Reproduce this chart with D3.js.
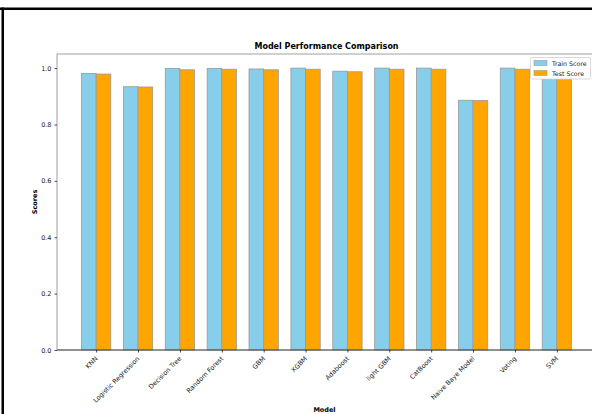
<!DOCTYPE html>
<html>
<head>
<meta charset="utf-8">
<script src="https://cdn.jsdelivr.net/npm/d3@7"></script>
<style>
  html, body { margin: 0; padding: 0; background: #fff; }
  svg { display: block; font-family: "DejaVu Sans", sans-serif; }
</style>
</head>
<body>
<svg id="chart" width="592" height="414"></svg>
<script>
const models = ["KNN", "Logistic Regression", "Decision Tree", "Random Forest", "GBM", "XGBM",
  "Adaboost", "light GBM", "CatBoost", "Naive Baye Model", "Voting", "SVM"];
const trainScores = [0.981, 0.934, 0.999, 0.999, 0.997, 1.0, 0.989, 1.0, 1.0, 0.886, 1.0, 0.985];
const testScores  = [0.979, 0.933, 0.994, 0.996, 0.994, 0.996, 0.987, 0.996, 0.996, 0.885, 0.996, 0.983];
const yTicks = [0.0, 0.2, 0.4, 0.6, 0.8, 1.0];
const seriesNames = ["Train Score", "Test Score"];
const seriesColors = ["#87CEEB", "#FFA500"];

const svg = d3.select("#chart");
const mLeft = 57, mRight = 596, mTop = 54, mBottom = 350;

// frame lines (cropped screenshot border)
svg.append("rect").attr("x", 0).attr("y", 7.5).attr("width", 592).attr("height", 2.5).attr("fill", "#000");
svg.append("rect").attr("x", 1.5).attr("y", 7.5).attr("width", 2.5).attr("height", 410).attr("fill", "#000");

const x = d3.scalePoint().domain(models).range([mLeft, mRight]).padding(0.935);
const step = x.step();
const bw = step * 0.35;
const y = d3.scaleLinear().domain([0, 1.05]).range([mBottom, mTop]);

const series = [trainScores, testScores];
series.forEach((vals, si) => {
  svg.append("g").selectAll("rect").data(models).join("rect")
    .attr("x", (d) => x(d) + (si === 0 ? -bw : 0))
    .attr("y", (d, i) => y(vals[i]))
    .attr("width", bw)
    .attr("height", (d, i) => y(0) - y(vals[i]))
    .attr("fill", seriesColors[si])
    .attr("stroke", "#9a9a9a")
    .attr("stroke-width", 0.8);
});

// spines
svg.append("rect").attr("x", mLeft).attr("y", mTop).attr("width", mRight - mLeft).attr("height", mBottom - mTop)
  .attr("fill", "none").attr("stroke", "#888").attr("stroke-width", 0.8);
svg.append("line").attr("x1", mLeft).attr("x2", mRight).attr("y1", mBottom).attr("y2", mBottom)
  .attr("stroke", "#333").attr("stroke-width", 0.8);

// y axis
const yAxis = d3.axisLeft(y).tickValues(yTicks).tickFormat(d3.format(".1f")).tickSize(2.5).tickPadding(3);
const gy = svg.append("g").attr("transform", `translate(${mLeft},0)`).call(yAxis);
gy.select(".domain").remove();
gy.selectAll("text").attr("font-size", 6.5).attr("fill", "#222").attr("font-family", "DejaVu Sans");
gy.selectAll("line").attr("stroke", "#000").attr("stroke-width", 0.7);

// x axis
const xAxis = d3.axisBottom(x).tickSize(2.5).tickPadding(2);
const gx = svg.append("g").attr("transform", `translate(0,${mBottom})`).call(xAxis);
gx.select(".domain").remove();
gx.selectAll("line").attr("stroke", "#000").attr("stroke-width", 0.7);
gx.selectAll("text")
  .attr("font-size", 6.5).attr("fill", "#222").attr("font-family", "DejaVu Sans")
  .attr("text-anchor", "end")
  .attr("y", 0).attr("dy", 0)
  .attr("transform", "translate(1.5,9) rotate(-45)");

// title and axis labels
svg.append("text").attr("x", (mLeft + mRight) / 2).attr("y", 49).attr("text-anchor", "middle")
  .attr("font-size", 8).attr("font-weight", "bold").text("Model Performance Comparison");
svg.append("text").attr("x", (mLeft + mRight) / 2 - 2).attr("y", 412).attr("text-anchor", "middle")
  .attr("font-size", 6.5).attr("font-weight", "bold").text("Model");
svg.append("text").attr("transform", `translate(37,${(mTop + mBottom) / 2}) rotate(-90)`).attr("text-anchor", "middle")
  .attr("font-size", 6.5).attr("font-weight", "bold").text("Scores");

// legend
const lg = svg.append("g");
lg.append("rect").attr("x", 530.5).attr("y", 57.5).attr("width", 60).attr("height", 21.5).attr("rx", 1.5)
  .attr("fill", "#fff").attr("stroke", "#d0d0d0").attr("stroke-width", 0.8);
seriesNames.forEach((name, i) => {
  lg.append("rect").attr("x", 534).attr("y", 60.5 + i * 10).attr("width", 13).attr("height", 5)
    .attr("fill", seriesColors[i]).attr("stroke", "#9a9a9a").attr("stroke-width", 0.6);
  lg.append("text").attr("x", 552).attr("y", 65.5 + i * 10).attr("font-size", 6.3).attr("fill", "#222").text(name);
});
</script>
</body>
</html>
